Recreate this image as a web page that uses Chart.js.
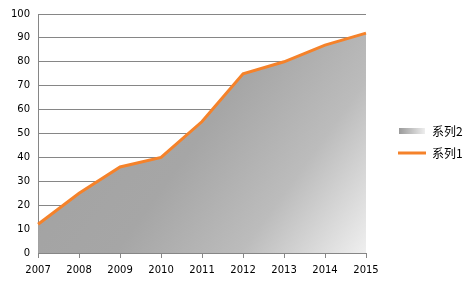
<!DOCTYPE html>
<html>
<head>
<meta charset="utf-8">
<script src="https://cdn.jsdelivr.net/npm/chart.js@4.4.0/dist/chart.umd.min.js"></script>
<style>
  html, body { margin: 0; padding: 0; background: #fff; }
  #wrap { width: 474px; height: 284px; }
</style>
</head>
<body>
<div id="wrap"><canvas id="chart"></canvas></div>
<script>
    'use strict';

    // Data
    const years = ['2007', '2008', '2009', '2010', '2011', '2012', '2013', '2014', '2015'];
    const series1 = [12, 25, 36, 40, 55, 75, 80, 87, 92];
    const series2 = [12, 25, 36, 40, 55, 75, 80, 87, 92];
    const seriesNames = ['系列1', '系列2'];

    const orange = '#f5822a';
    const gridGray = '#868686';

    // Gradient fill across the plot area, dark top-left to light bottom-right
    function areaGradient(context) {
        const chart = context.chart;
        const area = chart.chartArea;
        if (!area) return '#a6a6a6';
        const g = chart.ctx.createLinearGradient(area.left, area.top, area.right, area.bottom);
        g.addColorStop(0, '#a0a0a0');
        g.addColorStop(0.5, '#a6a6a6');
        g.addColorStop(0.75, '#bcbcbc');
        g.addColorStop(1, '#efefef');
        return g;
    }

    // Small gradient swatch used for the legend entry of the area series
    function makeSwatch() {
        const c = document.createElement('canvas');
        c.width = 26;
        c.height = 6;
        const x = c.getContext('2d');
        const g = x.createLinearGradient(0, 0, 26, 0);
        g.addColorStop(0, '#9a9a9a');
        g.addColorStop(1, '#eeeeee');
        x.fillStyle = g;
        x.fillRect(0, 0, 26, 6);
        return c;
    }
    const swatch = makeSwatch();

    const ctx = document.getElementById('chart');
    new Chart(ctx, {
        type: 'line',
        data: {
            labels: years,
            datasets: [{
                label: seriesNames[0],
                data: series1,
                borderColor: orange,
                borderWidth: 3,
                pointRadius: 0,
                tension: 0,
                fill: false
            }, {
                label: seriesNames[1],
                data: series2,
                borderWidth: 0,
                borderColor: 'rgba(0,0,0,0)',
                backgroundColor: areaGradient,
                pointRadius: 0,
                tension: 0,
                fill: 'origin'
            }]
        },
        options: {
            responsive: true,
            maintainAspectRatio: false,
            animation: false,
            layout: {
                padding: { top: 14, right: 9, bottom: 2, left: 3 }
            },
            plugins: {
                tooltip: { enabled: false },
                legend: {
                    position: 'right',
                    align: 'start',
                    reverse: true,
                    // empty title used only to push the entries down
                    title: {
                        display: true,
                        text: '',
                        font: { size: 1, lineHeight: 1 },
                        padding: { top: 100, bottom: 0 }
                    },
                    labels: {
                        usePointStyle: true,
                        pointStyleWidth: 28,
                        padding: 10,
                        color: '#000',
                        font: { family: '"Noto Sans CJK SC", sans-serif', size: 12 },
                        generateLabels: function(chart) {
                            return chart.data.datasets.map(function(ds, i) {
                                const isArea = i === 1;
                                return {
                                    text: ds.label,
                                    datasetIndex: i,
                                    fillStyle: isArea ? '#a6a6a6' : orange,
                                    strokeStyle: isArea ? 'rgba(0,0,0,0)' : orange,
                                    lineWidth: isArea ? 0 : 3,
                                    pointStyle: isArea ? swatch : 'line',
                                    hidden: false,
                                    fontColor: '#000'
                                };
                            });
                        }
                    }
                }
            },
            scales: {
                x: {
                    offset: false,
                    grid: {
                        drawOnChartArea: false,
                        drawTicks: true,
                        tickLength: 5,
                        color: gridGray
                    },
                    border: { color: gridGray },
                    ticks: {
                        color: '#000',
                        padding: 6,
                        maxRotation: 0,
                        autoSkip: false,
                        font: { family: '"DejaVu Sans", sans-serif', size: 10 }
                    }
                },
                y: {
                    min: 0,
                    max: 100,
                    grid: {
                        color: gridGray,
                        drawTicks: false
                    },
                    border: { color: gridGray },
                    ticks: {
                        stepSize: 10,
                        color: '#000',
                        padding: 8,
                        font: { family: '"DejaVu Sans", sans-serif', size: 10 }
                    }
                },
                // empty spacer between the plot and the legend
                spacer: {
                    type: 'linear',
                    position: 'right',
                    grid: { display: false },
                    border: { display: false },
                    ticks: { display: false },
                    afterFit: function(scale) {
                        scale.width = 22;
                    }
                }
            }
        }
    });
</script>
</body>
</html>
